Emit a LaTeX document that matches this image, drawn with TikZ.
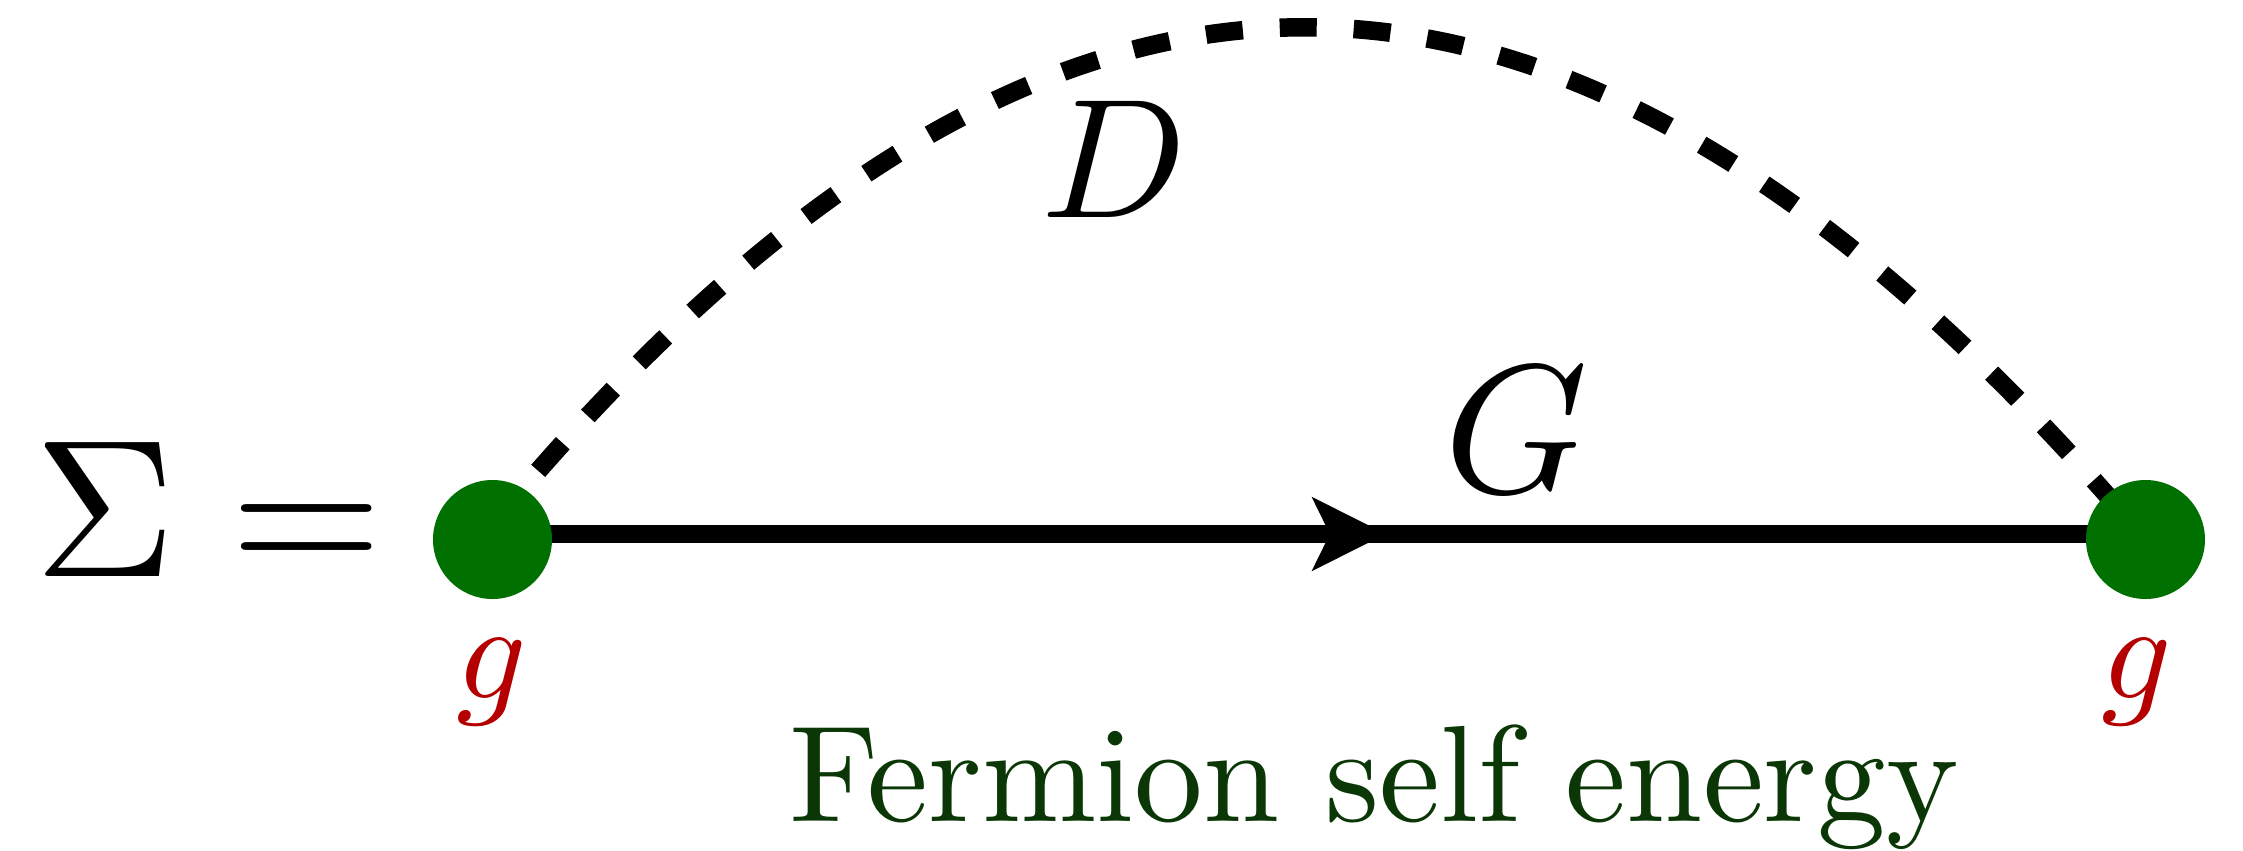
\documentclass[tikz,border=0pt]{standalone}
\usetikzlibrary{arrows.meta,decorations.markings,backgrounds}
\definecolor{vgreen}{RGB}{0,112,0}
\definecolor{gred}{RGB}{180,0,0}
\definecolor{capgreen}{RGB}{10,55,5}
\begin{document}
\begin{tikzpicture}[x=0.25pt,y=0.25pt,
  vertex/.style={circle, fill=vgreen, minimum size=29.75pt, inner sep=0pt},
  lbl/.style={inner sep=0pt, anchor=base},
  fermion/.style={line width=4.625pt, postaction={decorate},
    decoration={markings, mark=at position 0.5405 with {\arrow{Stealth[length=18.25pt,width=18pt,inset=4.25pt]}}}},
  scalar/.style={line width=4.625pt, dash pattern=on 9.25pt off 9.25pt, dash phase=14.5pt}]
\useasboundingbox (0,0) rectangle (2243,850);
\node[vertex] (v1) at (492.5,310.5) {};
\node[vertex] (v2) at (2145.5,310.5) {};
\begin{scope}[on background layer]
\draw[fermion] ([yshift=1.375pt]v1.center) -- ([yshift=1.375pt]v2.center);
\draw[scalar] ([xshift=-3.125pt]v1.center) .. controls (1040,993.5) and (1565.5,993.5) .. (v2.center);
\end{scope}
\node[lbl, scale=4.9, anchor=base west] (sigma) at (31,274) {$\Sigma =$};
\node[lbl, scale=4.575] (G) at (1516,358) {$G$};
\node[lbl, scale=4.25] (D) at (1114,633) {$D$};
\node[lbl, scale=3.45, text=gred] (g1) at (492,152) {$g$};
\node[lbl, scale=3.45, text=gred] (g2) at (2137,152) {$g$};
\node[lbl, scale=3.43, text=capgreen] (cap) at (1374,28.3) {Fermion self energy};
\end{tikzpicture}
\end{document}
